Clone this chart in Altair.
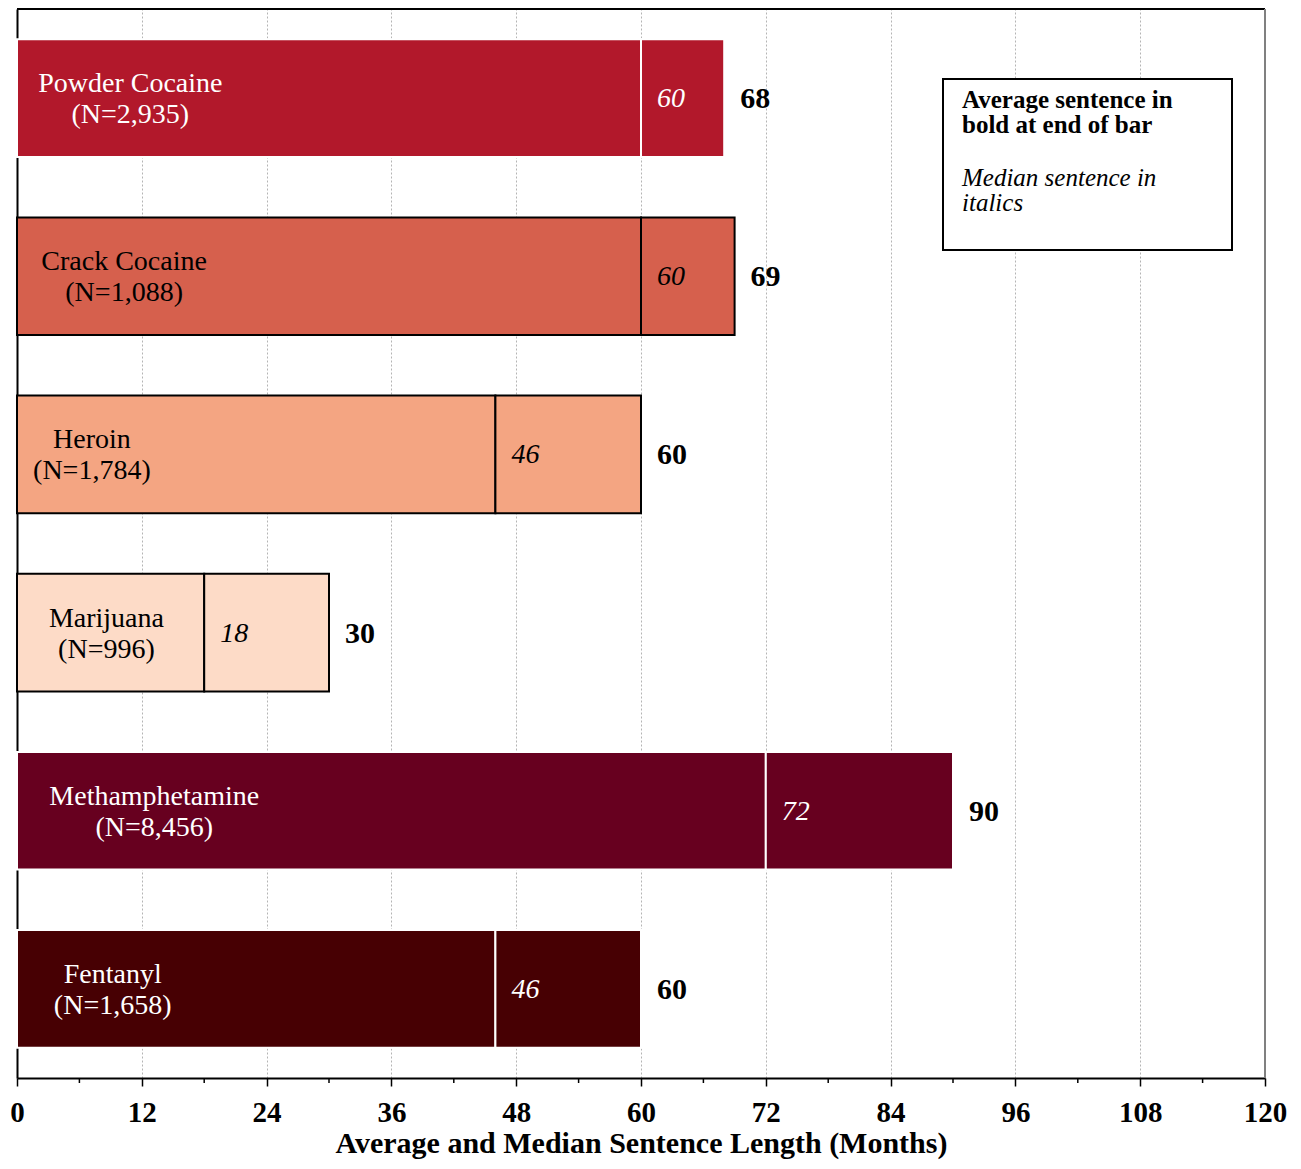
import altair as alt
import pandas as pd

# ---- data ----
drugs = ["Powder Cocaine", "Crack Cocaine", "Heroin", "Marijuana", "Methamphetamine", "Fentanyl"]
offenders = ["2,935", "1,088", "1,784", "996", "8,456", "1,658"]
median_months = [60, 60, 46, 18, 72, 46]
average_months = [68, 69, 60, 30, 90, 60]
x_ticks = list(range(0, 121, 12))
minor_ticks = list(range(6, 120, 12))
legend_bold = ["Average sentence in", "bold at end of bar"]
legend_italic = ["Median sentence in", "italics"]
x_title = "Average and Median Sentence Length (Months)"

# ---- styles / layout ----
fill_colors = ["#B2182B", "#D6604D", "#F4A582", "#FDDBC7", "#67001F", "#470003"]
edge_colors = ["#FFFFFF", "#000000", "#000000", "#000000", "#FFFFFF", "#FFFFFF"]
label_center = [10.9, 10.3, 7.2, 8.6, 13.2, 9.2]  # where the name labels sit (months)
FONT = "Liberation Serif"
W, H = 1248, 1069

main = pd.DataFrame({
    "drug": drugs,
    "label": [f"{d}\n(N={n})" for d, n in zip(drugs, offenders)],
    "median": median_months,
    "average": average_months,
    "label_x": label_center,
})
segs = pd.DataFrame(
    [{"drug": d, "start": 0, "end": m} for d, m in zip(drugs, median_months)]
    + [{"drug": d, "start": m, "end": a} for d, m, a in zip(drugs, median_months, average_months)]
)
one = pd.DataFrame({"k": [0]})
minor = pd.DataFrame({"m": minor_ticks})

x_scale = alt.Scale(domain=[0, 120], nice=False, zero=True)
y_scale = alt.Scale(domain=drugs, paddingInner=0.34, paddingOuter=0.17)
fill_scale = alt.Scale(domain=drugs, range=fill_colors)
edge_scale = alt.Scale(domain=drugs, range=edge_colors)

x_axis = alt.Axis(
    values=x_ticks, title=x_title, grid=True, gridColor="#b4b4b4", gridDash=[2, 2],
    gridWidth=1, domainColor="black", domainWidth=2, tickColor="black", tickSize=8,
    tickWidth=1.5, labelFont=FONT, labelFontSize=29, labelFontWeight="bold",
    labelColor="black", labelPadding=12, labelFlush=False, titleFont=FONT,
    titleFontSize=30, titleFontWeight="bold", titleColor="black", titlePadding=1,
)
y_axis = alt.Axis(title=None, labels=False, ticks=False, grid=False,
                  domainColor="black", domainWidth=2)

bars = alt.Chart(segs).mark_bar(strokeWidth=2).encode(
    x=alt.X("start:Q", scale=x_scale, axis=x_axis),
    x2="end:Q",
    y=alt.Y("drug:N", scale=y_scale, axis=y_axis),
    fill=alt.Fill("drug:N", scale=fill_scale, legend=None),
    stroke=alt.Stroke("drug:N", scale=edge_scale, legend=None),
)

names = alt.Chart(main).mark_text(
    align="center", baseline="middle", lineBreak="\n", lineHeight=31,
    font=FONT, fontSize=28, dy=-14,
).encode(
    x=alt.X("label_x:Q", scale=x_scale),
    y=alt.Y("drug:N", scale=y_scale),
    text="label:N",
    color=alt.Color("drug:N", scale=edge_scale, legend=None),
)

med = alt.Chart(main).mark_text(
    align="left", baseline="middle", dx=16, dy=1, font=FONT, fontSize=28, fontStyle="italic",
).encode(
    x=alt.X("median:Q", scale=x_scale),
    y=alt.Y("drug:N", scale=y_scale),
    text="median:Q",
    color=alt.Color("drug:N", scale=edge_scale, legend=None),
)

avg = alt.Chart(main).mark_text(
    align="left", baseline="middle", dx=16, dy=1, font=FONT, fontSize=30,
    fontWeight="bold", color="black",
).encode(
    x=alt.X("average:Q", scale=x_scale),
    y=alt.Y("drug:N", scale=y_scale),
    text="average:Q",
)

minor_ticks_layer = alt.Chart(minor).mark_rule(color="black", strokeWidth=1.5).encode(
    x=alt.X("m:Q", scale=x_scale), y=alt.value(H), y2=alt.value(H + 5)
)

top_border = alt.Chart(one).mark_rule(color="black", strokeWidth=2).encode(
    x=alt.value(0), x2=alt.value(W), y=alt.value(0)
)
right_border = alt.Chart(one).mark_rule(color="#808080", strokeWidth=2).encode(
    x=alt.value(W), y=alt.value(0), y2=alt.value(H)
)

box = alt.Chart(one).mark_rect(fill="white", stroke="black", strokeWidth=2).encode(
    x=alt.value(926), x2=alt.value(1215), y=alt.value(70), y2=alt.value(241)
)
box_bold = alt.Chart(one).mark_text(
    text=legend_bold, align="left", baseline="alphabetic", font=FONT, fontSize=25,
    fontWeight="bold", lineHeight=25, color="black",
).encode(x=alt.value(945), y=alt.value(99))
box_italic = alt.Chart(one).mark_text(
    text=legend_italic, align="left", baseline="alphabetic", font=FONT, fontSize=25,
    fontStyle="italic", lineHeight=25, color="black",
).encode(x=alt.value(945), y=alt.value(177))

chart = alt.layer(
    bars, names, med, avg, minor_ticks_layer, top_border, right_border,
    box, box_bold, box_italic,
).properties(
    width=W, height=H,
    padding={"left": 9, "top": 1, "right": 24, "bottom": 83},
    autosize=alt.AutoSizeParams(type="none"),
).configure_view(stroke=None)

chart.save("out.html", embed_options={"renderer": "svg", "actions": False})
